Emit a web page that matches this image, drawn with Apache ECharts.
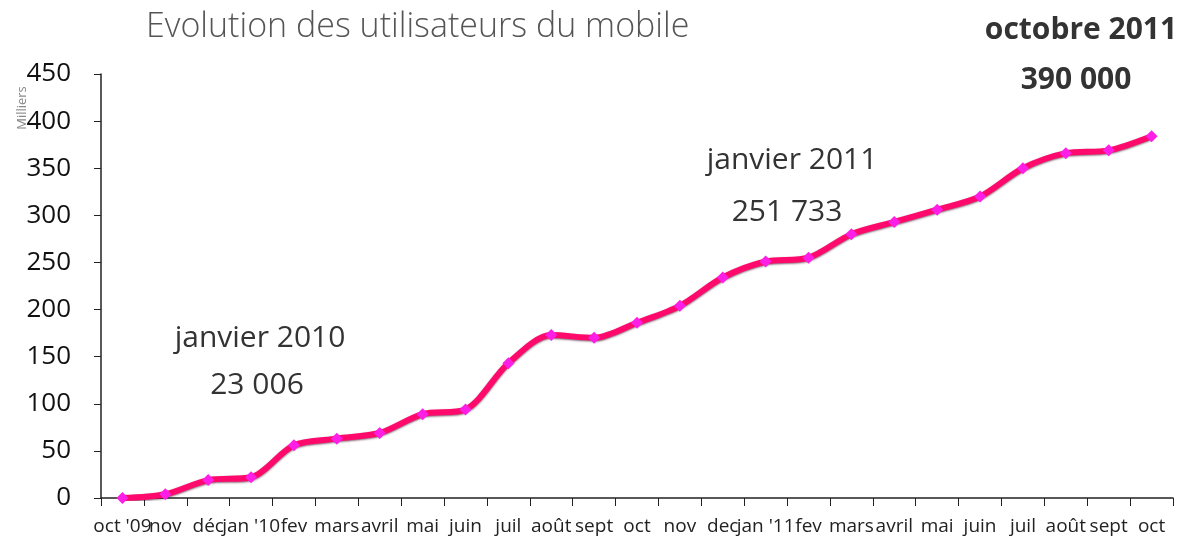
<!DOCTYPE html>
<html>
<head>
<meta charset="utf-8">
<script src="https://cdn.jsdelivr.net/npm/echarts@6/dist/echarts.min.js"></script>
<style>
    html, body { margin: 0; padding: 0; background: #fff; }
    #lineChart { width: 1195px; height: 546px; }
</style>
</head>
<body>
<div id="lineChart"></div>
<script>
    // mois (oct 2009 -> oct 2011)
    const months = ["oct '09", 'nov', 'déc', "jan '10", 'fev', 'mars', 'avril', 'mai', 'juin', 'juil', 'août', 'sept',
        'oct', 'nov', 'dec', "jan '11", 'fev', 'mars', 'avril', 'mai', 'juin', 'juil', 'août', 'sept', 'oct'];
    // utilisateurs, en milliers
    const users = [0, 4, 19, 22, 56, 63, 69, 89, 94, 143, 173, 170,
        186, 204, 234, 251, 255, 280, 293, 306, 320, 350, 366, 369, 384];
    const yTicks = [0, 450, 50];

    const font = '"Open Sans", "DejaVu Sans", sans-serif';
    let lineChart = echarts.init(document.getElementById('lineChart'));

    const option = {
        backgroundColor: '#fff',
        animation: false,
        grid: {
            left: 101,
            right: 22,
            top: 74,
            bottom: 48
        },
        xAxis: {
            type: 'category',
            data: months,
            boundaryGap: true,
            axisLine: { lineStyle: { color: '#222', width: 1.5 } },
            axisTick: { show: true, length: 8, lineStyle: { color: '#222' } },
            axisLabel: {
                interval: 0,
                color: '#222',
                fontFamily: font,
                fontSize: 19,
                margin: 19
            },
            splitLine: { show: false }
        },
        yAxis: {
            type: 'value',
            min: yTicks[0],
            max: yTicks[1],
            interval: yTicks[2],
            axisLine: { show: true, lineStyle: { color: '#222', width: 1.5 } },
            axisTick: { show: true, length: 7, lineStyle: { color: '#222' } },
            axisLabel: {
                color: '#111',
                fontFamily: font,
                fontSize: 26,
                fontWeight: 500,
                margin: 30
            },
            splitLine: { show: false }
        },
        graphic: [
            {
                type: 'text', left: 146, top: 10,
                style: { text: 'Evolution des utilisateurs du mobile', fill: '#555', font: '300 34px ' + font }
            },
            {
                type: 'text', x: 22, y: 108, rotation: Math.PI / 2,
                style: { text: 'Milliers', fill: '#888', font: '13px ' + font, align: 'center', verticalAlign: 'middle' }
            },
            {
                type: 'text', x: 260, y: 338,
                style: { text: 'janvier 2010', fill: '#333', font: '30px ' + font, align: 'center', verticalAlign: 'middle' }
            },
            {
                type: 'text', x: 257, y: 385,
                style: { text: '23 006', fill: '#333', font: '30px ' + font, align: 'center', verticalAlign: 'middle' }
            },
            {
                type: 'text', x: 792, y: 160,
                style: { text: 'janvier 2011', fill: '#333', font: '30px ' + font, align: 'center', verticalAlign: 'middle' }
            },
            {
                type: 'text', x: 787, y: 212,
                style: { text: '251 733', fill: '#333', font: '30px ' + font, align: 'center', verticalAlign: 'middle' }
            },
            {
                type: 'text', x: 1081, y: 30,
                style: { text: 'octobre 2011', fill: '#333', font: 'bold 30px ' + font, align: 'center', verticalAlign: 'middle' }
            },
            {
                type: 'text', x: 1076, y: 80,
                style: { text: '390 000', fill: '#333', font: 'bold 30px ' + font, align: 'center', verticalAlign: 'middle' }
            }
        ],
        series: [{
            name: 'Milliers',
            type: 'line',
            data: users,
            smooth: 0.3,
            symbol: 'diamond',
            symbolSize: 12,
            itemStyle: { color: '#ff1ee6' },
            lineStyle: {
                color: '#ff0a6c',
                width: 6,
                shadowColor: 'rgba(60, 0, 30, 0.6)',
                shadowBlur: 2,
                shadowOffsetY: 1
            },
            z: 3
        }]
    };

    lineChart.setOption(option);
</script>
</body>
</html>
